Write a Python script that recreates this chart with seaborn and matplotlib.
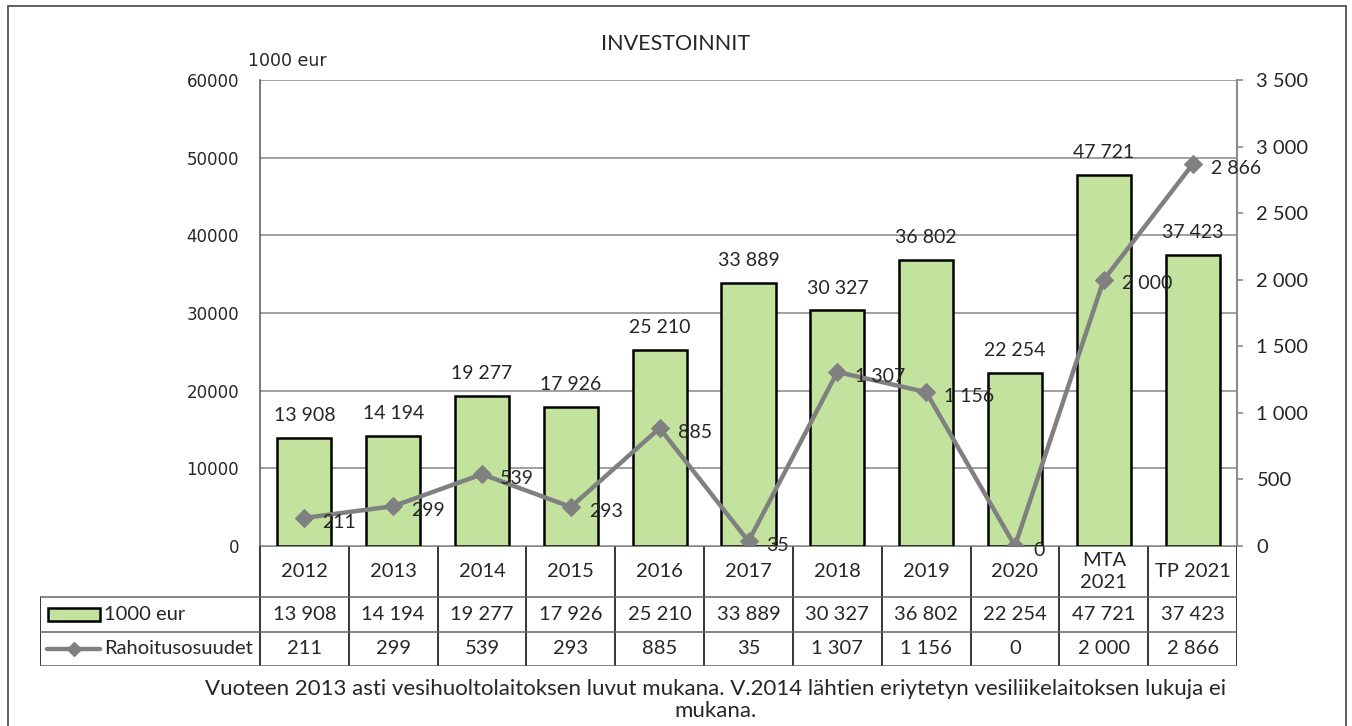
import matplotlib
matplotlib.use("Agg")
import matplotlib.pyplot as plt
import matplotlib.lines as mlines
import matplotlib.patches as mpatches
import numpy as np
import seaborn as sns

# Data
categories = ["2012", "2013", "2014", "2015", "2016", "2017", "2018", "2019", "2020", "MTA\n2021", "TP 2021"]
investments = [13908, 14194, 19277, 17926, 25210, 33889, 30327, 36802, 22254, 47721, 37423]
funding = [211, 299, 539, 293, 885, 35, 1307, 1156, 0, 2000, 2866]
bar_name = "1000 eur"
line_name = "Rahoitusosuudet"
title = "INVESTOINNIT"
footnote = ("Vuoteen 2013 asti vesihuoltolaitoksen luvut mukana. V.2014 lähtien eriytetyn vesiliikelaitoksen lukuja ei\n"
            "mukana.")

barColor = "#C3E29D"
lineColor = "#808080"
gridColor = "#868686"


def fmt(v):
    return f"{v:,}".replace(",", " ")


sns.set_theme(style="white")
plt.rcParams["font.family"] = ["Lato", "DejaVu Sans"]

W, H = 1352, 726
fig = plt.figure(figsize=(W / 100, H / 100), dpi=100)

# Outer frame (open at the bottom like the cropped original)
for xs, ys in [([8, 8], [726, 6]), ([8, 1346], [6, 6]), ([1346, 1346], [6, 726])]:
    fig.add_artist(mlines.Line2D([x / W for x in xs], [1 - y / H for y in ys],
                                 transform=fig.transFigure, color="#555555", lw=1.3))

# Main plot area
ax = fig.add_axes([260 / W, 1 - 546 / H, 977 / W, 466 / H])
sns.barplot(x=np.arange(len(categories)), y=investments, color=barColor, saturation=1,
            edgecolor="black", linewidth=1.8, width=0.61, ax=ax, zorder=2)
ax.set_xlim(-0.5, len(categories) - 0.5)
ax.set_ylim(0, 60000)
ax.set_yticks(range(0, 60001, 10000))
ax.set_yticklabels([str(v) for v in range(0, 60001, 10000)], family="DejaVu Sans", fontsize=12)
ax.tick_params(axis="y", length=0, pad=15)
ax.set_xticks([])
ax.set_xlabel("")
ax.set_ylabel("")
ax.grid(axis="y", color=gridColor, lw=1.1)
ax.set_axisbelow(True)
for s in ["top", "right", "bottom"]:
    ax.spines[s].set_visible(False)
ax.spines["left"].set_color("#555555")
ax.spines["left"].set_linewidth(1.1)

ax.bar_label(ax.containers[0], labels=[fmt(v) for v in investments], padding=10, fontsize=14)

# Secondary axis with the funding line
ax2 = ax.twinx()
sns.lineplot(x=np.arange(len(categories)), y=funding, ax=ax2, color=lineColor, lw=3.2,
             marker="D", markersize=9, markeredgecolor=lineColor, zorder=3)
ax2.set_xlim(-0.5, len(categories) - 0.5)
ax2.set_ylim(0, 3500)
ax2.set_yticks(range(0, 3501, 500))
ax2.set_yticklabels([fmt(v) for v in range(0, 3501, 500)], fontsize=14.5)
ax2.tick_params(axis="y", right=True, length=4, width=1.1, color=lineColor, pad=10, direction="out")
ax2.set_ylabel("")
for s in ["top", "left", "bottom"]:
    ax2.spines[s].set_visible(False)
ax2.spines["right"].set_color("#8c8c8c")
ax2.spines["right"].set_linewidth(1.5)
for i, v in enumerate(funding):
    ax2.annotate(fmt(v), (i, v), xytext=(13, -3), textcoords="offset points",
                 ha="left", va="center", fontsize=14)

# Data table below the plot area
unit = 977 / len(categories)
tax = fig.add_axes([40 / W, 1 - 666 / H, (1237 - 40) / W, 120 / H])
left = -0.5 - 220 / unit
right = len(categories) - 0.5
tax.set_xlim(left, right)
tax.set_ylim(120, 0)
tax.axis("off")
rows = [0, 51, 86, 120]
for k in range(len(categories) + 1):
    tax.plot([k - 0.5, k - 0.5], [0, 120], color="black", lw=1.1, solid_capstyle="butt")
tax.plot([left, left], [51, 120], color="black", lw=1.1)
tax.plot([-0.5, right], [0, 0], color="#666666", lw=1.1)
for yy in rows[1:]:
    tax.plot([left, right], [yy, yy], color="#666666", lw=1.1)

for i, c in enumerate(categories):
    tax.text(i, 25.5, c, ha="center", va="center", fontsize=14.5, linespacing=1.35)
    tax.text(i, 68.5, fmt(investments[i]), ha="center", va="center", fontsize=14.5)
    tax.text(i, 103, fmt(funding[i]), ha="center", va="center", fontsize=14.5)

px = 1 / unit
tax.add_patch(mpatches.Rectangle((-0.5 - (260 - 48) * px, 61.5), 52 * px, 13,
                                 facecolor=barColor, edgecolor="black", lw=1.8))
tax.plot([-0.5 - (260 - 47) * px, -0.5 - (260 - 100) * px], [103, 103], color=lineColor, lw=3.2)
tax.plot([-0.5 - (260 - 74) * px], [103], marker="D", color=lineColor, markersize=7)
tax.text(-0.5 - (260 - 104) * px, 68.5, bar_name, ha="left", va="center", fontsize=14.5)
tax.text(-0.5 - (260 - 104) * px, 103, line_name, ha="left", va="center", fontsize=14.5)

# Titles and notes
fig.text(676 / W, 1 - 44 / H, title, ha="center", va="center", fontsize=15.5)
fig.text(287 / W, 1 - 61 / H, bar_name, ha="center", va="center", fontsize=12.5, family="DejaVu Sans")
fig.text(716 / W, 1 - 700 / H, footnote, ha="center", va="center", fontsize=16, linespacing=1.1)

fig.savefig("out.png", dpi=100)
